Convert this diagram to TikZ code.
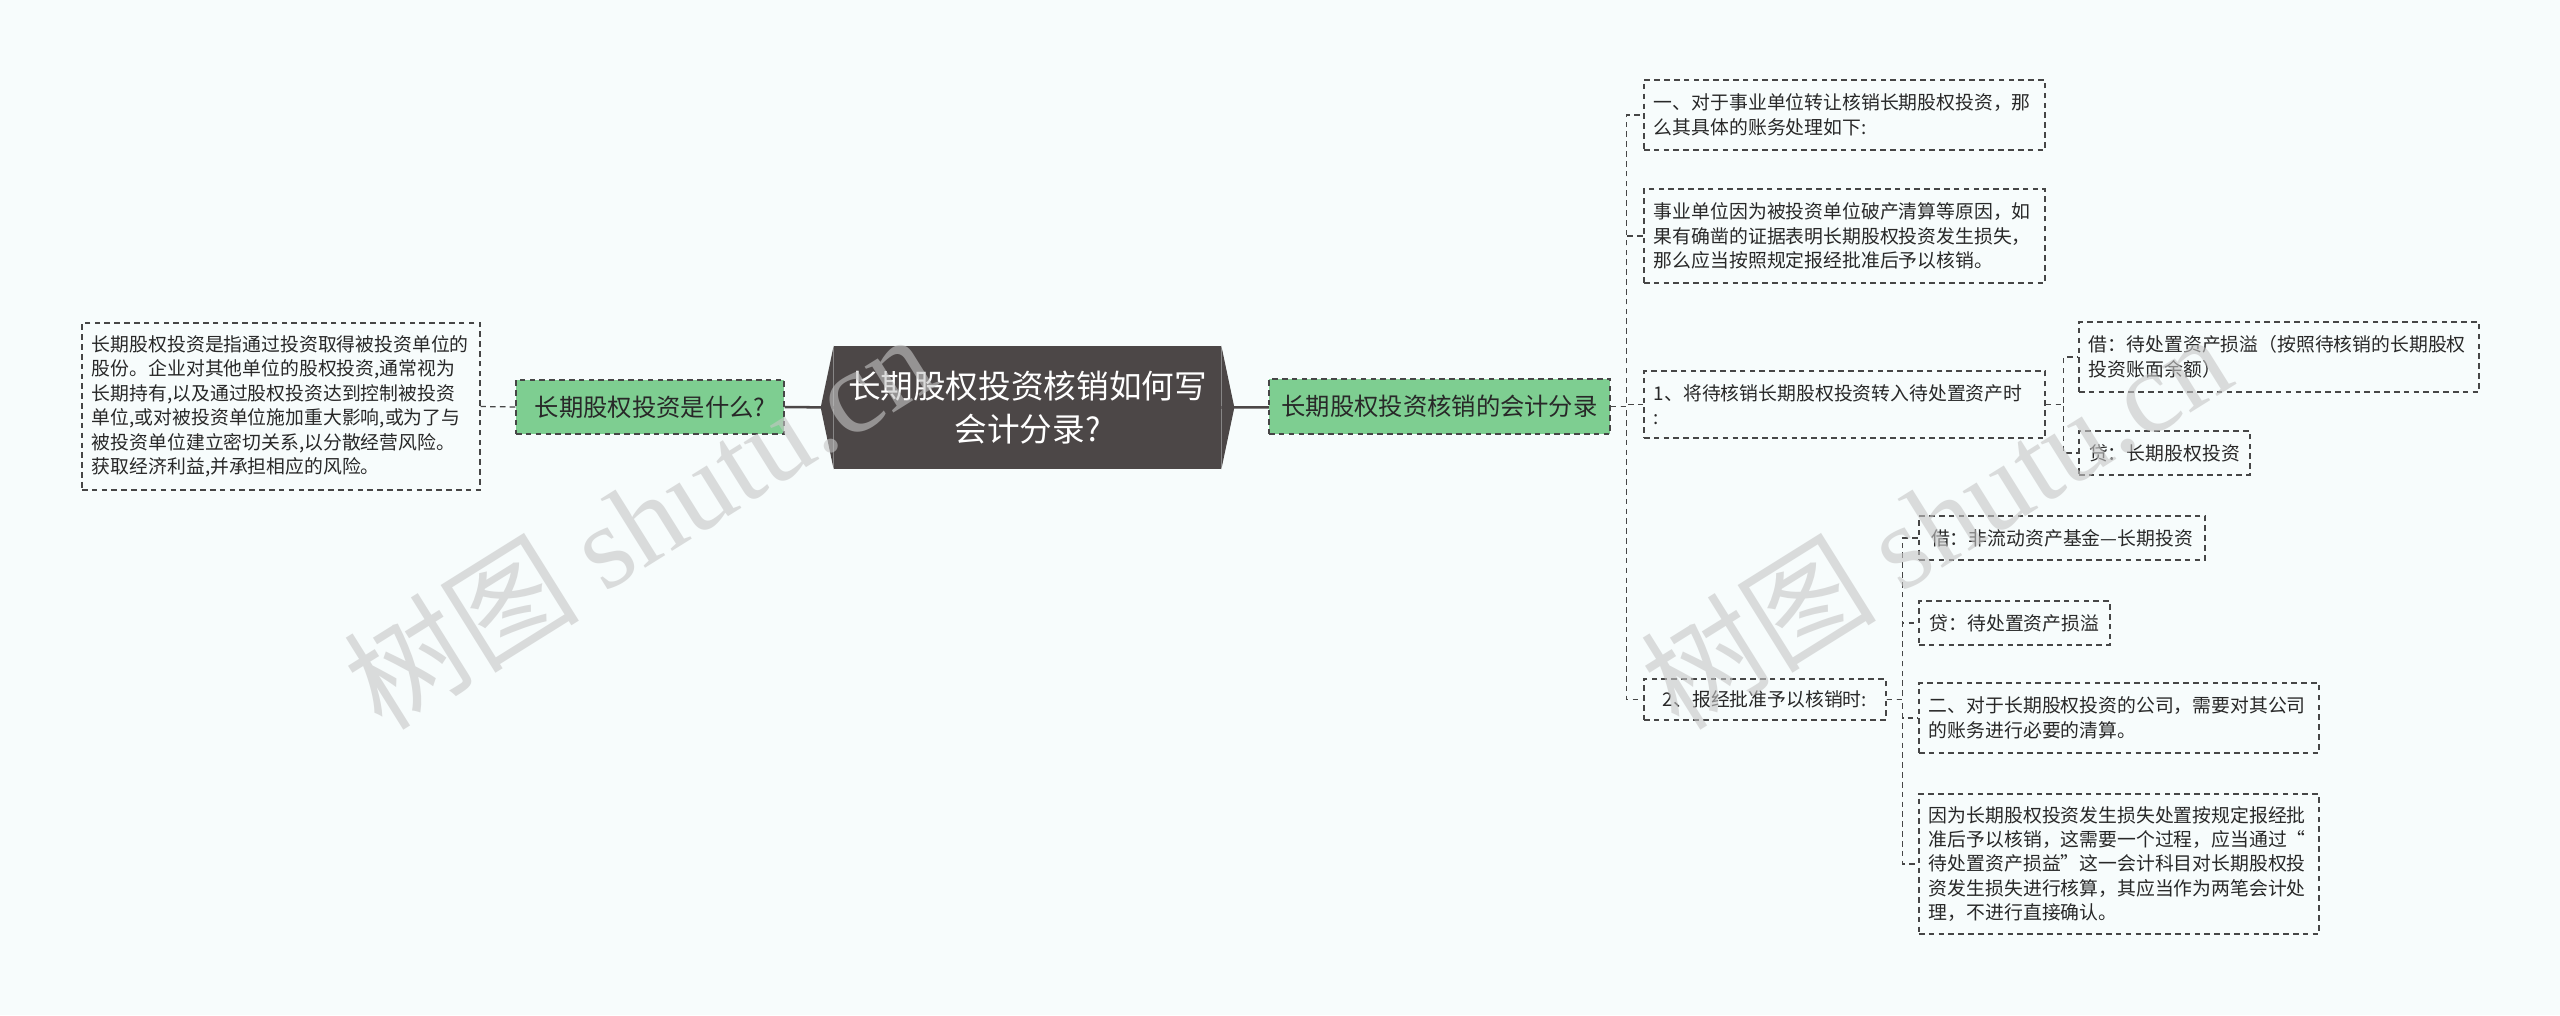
\documentclass[tikz,border=0pt]{standalone}
\usepackage{fontspec}
\setmainfont{Noto Sans CJK SC}
\newfontfamily\wmserif{Liberation Serif}
\usepackage{tikz}
\usetikzlibrary{positioning}
\definecolor{bgcol}{RGB}{247,252,252}
\definecolor{rootgray}{RGB}{76,71,71}
\definecolor{topicgreen}{RGB}{126,206,145}
\definecolor{linegray}{RGB}{70,70,70}
\definecolor{textgray}{RGB}{40,40,40}
\tikzstyle{leaf} = [rectangle, draw=linegray, line width=0.9pt, dash pattern=on 4pt off 3pt, inner xsep=0.25cm, inner ysep=0pt, align=left, text=textgray, font=\fontsize{13.4}{17.4}\selectfont]
\tikzstyle{topic} = [rectangle, draw=linegray, line width=0.9pt, dash pattern=on 4pt off 3pt, fill=topicgreen, text=textgray, font=\fontsize{17.3}{22}\selectfont]
\tikzstyle{rootbox} = [rectangle, fill=rootgray, text=white, align=center, minimum width=9.675cm, minimum height=3.075cm, font=\fontsize{23.2}{30}\selectfont]
\tikzstyle{link} = [draw=linegray, line width=0.9pt, dash pattern=on 4pt off 3pt]
\tikzstyle{mainline} = [draw=rootgray, line width=1.8pt]
\tikzstyle{watermark} = [text=gray!45, opacity=0.6, font=\fontsize{84}{84}\selectfont]

\begin{document}
\begin{tikzpicture}[x=0.025cm, y=-0.025cm]
\fill[bgcol] (0,0) rectangle (2560,1015);
\useasboundingbox (0,0) rectangle (2560,1015);

\node (root) [rootbox] at (1027.5,407.5) {长期股权投资核销如何写\\会计分录?};
\node (G1) [topic, minimum width=6.7cm, minimum height=1.35cm] at (650,407) {长期股权投资是什么?};
\node (G2) [topic, minimum width=8.525cm, minimum height=1.375cm] at (1439.5,406.5) {长期股权投资核销的会计分录};

\node (L) [leaf, text width=9.45cm, minimum height=4.175cm] at (281,406.5) {长期股权投资是指通过投资取得被投资单位的\\股份。企业对其他单位的股权投资,通常视为\\长期持有,以及通过股权投资达到控制被投资\\单位,或对被投资单位施加重大影响,或为了与\\被投资单位建立密切关系,以分散经营风险。\\获取经济利益,并承担相应的风险。};

\node (A) [leaf, text width=9.525cm, minimum height=1.75cm] at (1844.5,115) {一、对于事业单位转让核销长期股权投资，那\\么其具体的账务处理如下:};
\node (B) [leaf, text width=9.525cm, minimum height=2.35cm] at (1844.5,236) {事业单位因为被投资单位破产清算等原因，如\\果有确凿的证据表明长期股权投资发生损失，\\那么应当按照规定报经批准后予以核销。};
\node (C) [leaf, text width=9.525cm, minimum height=1.675cm] at (1844.5,404.5) {1、将待核销长期股权投资转入待处置资产时\\:};
\node (D) [leaf, minimum width=6.05cm, minimum height=1.025cm] at (1765,699.5) {2、报经批准予以核销时:};

\node (C1) [leaf, text width=9.5cm, minimum height=1.75cm] at (2279,357) {借：待处置资产损溢（按照待核销的长期股权\\投资账面余额）};
\node (C2) [leaf, minimum width=4.275cm, minimum height=1.1cm] at (2164.5,453) {贷：长期股权投资};

\node (D1) [leaf, minimum width=7.15cm, minimum height=1.1cm] at (2062,538) {借：非流动资产基金—长期投资};
\node (D2) [leaf, minimum width=4.775cm, minimum height=1.1cm] at (2014.5,623) {贷：待处置资产损溢};
\node (D3) [leaf, text width=9.5cm, minimum height=1.75cm] at (2119,718) {二、对于长期股权投资的公司，需要对其公司\\的账务进行必要的清算。};
\node (D4) [leaf, text width=9.5cm, minimum height=3.5cm] at (2119,864) {因为长期股权投资发生损失处置按规定报经批\\准后予以核销，这需要一个过程，应当通过“\\待处置资产损益”这一会计科目对长期股权投\\资发生损失进行核算，其应当作为两笔会计处\\理，不进行直接确认。};

\draw [mainline] (root.west) -- (G1.east);
\draw [mainline] (root.east) -- (G2.east);
\fill [rootgray] (root.north west) -- ([xshift=-0.325cm]root.west) -- (root.south west) -- cycle;
\fill [rootgray] (root.north east) -- ([xshift=0.325cm]root.east) -- (root.south east) -- cycle;
\node [topic, minimum width=8.525cm, minimum height=1.375cm] at (G2) {长期股权投资核销的会计分录};

\draw [link] (G1.west) -- (L.east);
\foreach \n in {A,B,C,D}
  \draw [link] (G2.east) -- ++(16,0) |- (\n.west);
\foreach \n in {C1,C2}
  \draw [link] (C.east) -- ++(18,0) |- (\n.west);
\foreach \n in {D1,D2,D3,D4}
  \draw [link] (D.east) -- ++(16,0) |- (\n.west);

\node (wmleft) [watermark, rotate=32] at (638,520) {树图 {\wmserif shutu.cn}};
\node (wmright) [watermark, rotate=32] at (1935,520) {树图 {\wmserif shutu.cn}};
\end{tikzpicture}
\end{document}
